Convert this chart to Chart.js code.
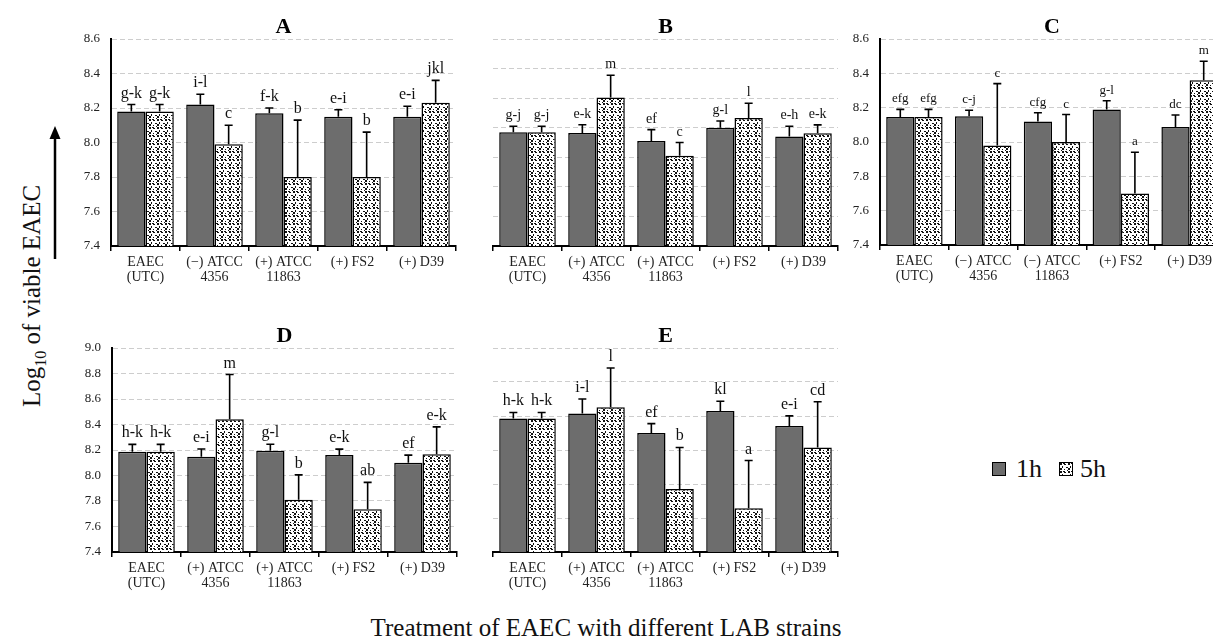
<!DOCTYPE html>
<html>
<head>
<meta charset="utf-8">
<script src="https://cdn.jsdelivr.net/npm/chart.js@4.4.1/dist/chart.umd.min.js"></script>
<style>
  html, body { margin: 0; padding: 0; background: #fff; }
  body { width: 1213px; height: 641px; position: relative; overflow: hidden; font-family: "Liberation Serif", "Times New Roman", serif; }
  .panel { position: absolute; }
  .txt { position: absolute; color: #111; white-space: nowrap; }
  #ytitle { left: 34px; top: 296px; font-size: 25px; transform: translate(-50%, -50%) rotate(-90deg); }
  #xtitle { left: 606px; top: 628px; font-size: 25px; transform: translate(-50%, -50%); }
  #arrow { position: absolute; left: 48px; top: 125px; }
  .sw { position: absolute; width: 12px; height: 12px; border: 1.5px solid #000; }
</style>
</head>
<body>
<canvas id="cA" class="panel"></canvas>
<canvas id="cB" class="panel"></canvas>
<canvas id="cC" class="panel"></canvas>
<canvas id="cD" class="panel"></canvas>
<canvas id="cE" class="panel"></canvas>

<div id="ytitle" class="txt">Log<sub style="font-size:16px">10</sub> of viable EAEC</div>
<svg id="arrow" width="14" height="136"><line x1="7" y1="12" x2="7" y2="134" stroke="#000" stroke-width="2.5"/><polygon points="7,1 1.5,14 12.5,14" fill="#000"/></svg>
<div id="xtitle" class="txt">Treatment of EAEC with different LAB strains</div>

<div id="sw1" class="sw" style="left:992px;top:462px;background:#6d6d6d;"></div>
<div class="txt" style="left:1016px;top:454px;font-size:26px;">1h</div>
<div id="sw5" class="sw" style="left:1059px;top:462px;"></div>
<div class="txt" style="left:1080px;top:454px;font-size:26px;">5h</div>

<script>
// Category labels
const catsPlus = [['EAEC', '(UTC)'], ['(+) ATCC', '4356'], ['(+) ATCC', '11863'], '(+) FS2', '(+) D39'];
const catsA = [['EAEC', '(UTC)'], ['(−) ATCC', '4356'], ['(+) ATCC', '11863'], '(+) FS2', '(+) D39'];
const catsC = [['EAEC', '(UTC)'], ['(−) ATCC', '4356'], ['(−) ATCC', '11863'], '(+) FS2', '(+) D39'];

// Panel A
const a1h = [8.18, 8.22, 8.17, 8.15, 8.15];
const a5h = [8.18, 7.99, 7.80, 7.80, 8.23];
const a1hErr = [0.04, 0.06, 0.03, 0.04, 0.06];
const a5hErr = [0.04, 0.11, 0.33, 0.26, 0.13];
const a1hSig = ['g-k', 'i-l', 'f-k', 'e-i', 'e-i'];
const a5hSig = ['g-k', 'c', 'b', 'b', 'jkl'];

// Panel B
const b1h = [8.17, 8.165, 8.11, 8.20, 8.14];
const b5h = [8.17, 8.405, 8.01, 8.265, 8.163];
const b1hErr = [0.04, 0.055, 0.077, 0.045, 0.07];
const b5hErr = [0.04, 0.15, 0.09, 0.10, 0.056];
const b1hSig = ['g-j', 'e-k', 'ef', 'g-l', 'e-h'];
const b5hSig = ['g-j', 'm', 'c', 'l', 'e-k'];

// Panel C
const c1h = [8.145, 8.15, 8.12, 8.19, 8.087];
const c5h = [8.145, 7.98, 8.00, 7.70, 8.36];
const c1hErr = [0.045, 0.035, 0.05, 0.05, 0.07];
const c5hErr = [0.045, 0.36, 0.16, 0.24, 0.11];
const c1hSig = ['efg', 'c-j', 'cfg', 'g-l', 'dc'];
const c5hSig = ['efg', 'c', 'c', 'a', 'm'];

// Panel D
const d1h = [8.187, 8.148, 8.195, 8.16, 8.10];
const d5h = [8.187, 8.442, 7.81, 7.736, 8.166];
const d1hErr = [0.057, 0.06, 0.05, 0.047, 0.06];
const d5hErr = [0.057, 0.35, 0.195, 0.21, 0.215];
const d1hSig = ['h-k', 'e-i', 'g-l', 'e-k', 'ef'];
const d5hSig = ['h-k', 'm', 'b', 'ab', 'e-k'];

// Panel E
const e1h = [8.186, 8.215, 8.10, 8.23, 8.141];
const e5h = [8.186, 8.252, 7.77, 7.658, 8.014];
const e1hErr = [0.035, 0.085, 0.055, 0.057, 0.06];
const e5hErr = [0.035, 0.23, 0.245, 0.28, 0.27];
const e1hSig = ['h-k', 'i-l', 'ef', 'kl', 'e-i'];
const e5hSig = ['h-k', 'l', 'b', 'a', 'cd'];

const SERIF = '"Liberation Serif", "Times New Roman", serif';
const GREY = '#6d6d6d';

// Speckled fill used for the 5 h bars
function makeSpeckleTile() {
  const t = document.createElement('canvas');
  t.width = 8; t.height = 8;
  const g = t.getContext('2d');
  g.fillStyle = '#fff';
  g.fillRect(0, 0, 8, 8);
  g.fillStyle = '#111';
  const dots = [[0,0],[4,1],[2,3],[6,4],[0,5],[4,6],[7,7],[3,0]];
  dots.forEach(([x, y], i) => g.fillRect(x, y, i % 3 === 2 ? 1 : 2, i % 2 ? 1 : 2));
  return t;
}
const tile = makeSpeckleTile();
const speckle = tile.getContext('2d').createPattern(tile, 'repeat');
document.getElementById('sw5').style.background = 'url(' + tile.toDataURL() + ')';

// Error bars with significance letters above them
const errorBarPlugin = {
  id: 'errorBars',
  afterDatasetsDraw(chart) {
    const ctx = chart.ctx;
    const ys = chart.scales.y;
    const cfg = chart.options.plugins.errorBars;
    ctx.save();
    chart.data.datasets.forEach((ds, di) => {
      const meta = chart.getDatasetMeta(di);
      meta.data.forEach((bar, i) => {
        const v = ds.data[i];
        const top = ys.getPixelForValue(v + ds.err[i]);
        ctx.strokeStyle = '#000';
        ctx.lineWidth = 1.6;
        ctx.beginPath();
        ctx.moveTo(bar.x, bar.y);
        ctx.lineTo(bar.x, top);
        ctx.moveTo(bar.x - 4, top);
        ctx.lineTo(bar.x + 4, top);
        ctx.stroke();
        ctx.fillStyle = '#111';
        ctx.font = cfg.size + 'px ' + SERIF;
        ctx.textAlign = 'center';
        ctx.textBaseline = 'alphabetic';
        ctx.fillText(ds.sig[i], bar.x, top - 7);
      });
    });
    ctx.restore();
  }
};

// Bold panel letter centred above the plot area
const panelTitlePlugin = {
  id: 'panelTitle',
  afterDraw(chart) {
    const ca = chart.chartArea;
    const ctx = chart.ctx;
    ctx.save();
    ctx.fillStyle = '#000';
    ctx.font = 'bold 22px ' + SERIF;
    ctx.textAlign = 'center';
    ctx.textBaseline = 'alphabetic';
    ctx.fillText(chart.options.plugins.panelTitle.text, (ca.left + ca.right) / 2, ca.top - 6);
    ctx.restore();
  }
};

const Y_W = 50, X_H = 45, PAD_T = 40, PAD_R = 12;

function panel(id, box, letter, cats, v1, v5, e1, e5, s1, s5, yMax, showY, sigSize) {
  const cv = document.getElementById(id);
  const w = (box.right - box.left) + Y_W + PAD_R;
  const h = (box.bottom - box.top) + PAD_T + X_H;
  cv.style.left = (box.left - Y_W) + 'px';
  cv.style.top = (box.top - PAD_T) + 'px';
  cv.style.width = w + 'px';
  cv.style.height = h + 'px';
  cv.width = w; cv.height = h;
  new Chart(cv, {
    type: 'bar',
    data: {
      labels: cats,
      datasets: [
        { label: '1h', data: v1, err: e1, sig: s1, backgroundColor: GREY, borderColor: '#000', borderWidth: 1.5 },
        { label: '5h', data: v5, err: e5, sig: s5, backgroundColor: speckle, borderColor: '#000', borderWidth: 1.5 }
      ]
    },
    options: {
      responsive: false,
      animation: false,
      devicePixelRatio: 1,
      categoryPercentage: 0.82,
      barPercentage: 1.0,
      layout: { padding: { top: PAD_T, right: PAD_R, left: 0, bottom: 0 } },
      plugins: {
        legend: { display: false },
        tooltip: { enabled: false },
        errorBars: { size: sigSize },
        panelTitle: { text: letter }
      },
      scales: {
        x: {
          afterFit: s => { s.height = X_H; },
          grid: { display: true, drawOnChartArea: false, drawTicks: true, tickLength: 5, offset: true, color: '#000', lineWidth: 1.5 },
          border: { display: true, color: '#000', width: 2 },
          ticks: { color: '#222', padding: 4, maxRotation: 0, autoSkip: false, font: { family: SERIF, size: 14, lineHeight: 1.05 } }
        },
        y: {
          min: 7.4,
          max: yMax,
          afterFit: s => { s.width = Y_W; },
          grid: { color: '#cdcdcd', lineWidth: 1, drawTicks: false, tickLength: 0 },
          border: { display: showY, color: '#000', width: 2, dash: [5, 3] },
          ticks: {
            display: showY,
            stepSize: 0.2,
            padding: 11,
            color: '#222',
            font: { family: SERIF, size: 13 },
            callback: v => Number(v).toFixed(1)
          }
        }
      }
    },
    plugins: [errorBarPlugin, panelTitlePlugin]
  });
}

panel('cA', { left: 111, right: 456, top: 39, bottom: 246 }, 'A', catsA, a1h, a5h, a1hErr, a5hErr, a1hSig, a5hSig, 8.6, true, 16);
panel('cB', { left: 493, right: 838, top: 39, bottom: 246 }, 'B', catsPlus, b1h, b5h, b1hErr, b5hErr, b1hSig, b5hSig, 8.8, false, 14);
panel('cC', { left: 880, right: 1224, top: 39, bottom: 245 }, 'C', catsC, c1h, c5h, c1hErr, c5hErr, c1hSig, c5hSig, 8.6, true, 13);
panel('cD', { left: 112, right: 457, top: 348, bottom: 552 }, 'D', catsPlus, d1h, d5h, d1hErr, d5hErr, d1hSig, d5hSig, 9.0, true, 16);
panel('cE', { left: 493, right: 838, top: 348, bottom: 552 }, 'E', catsPlus, e1h, e5h, e1hErr, e5hErr, e1hSig, e5hSig, 8.6, false, 16);
</script>
</body>
</html>
